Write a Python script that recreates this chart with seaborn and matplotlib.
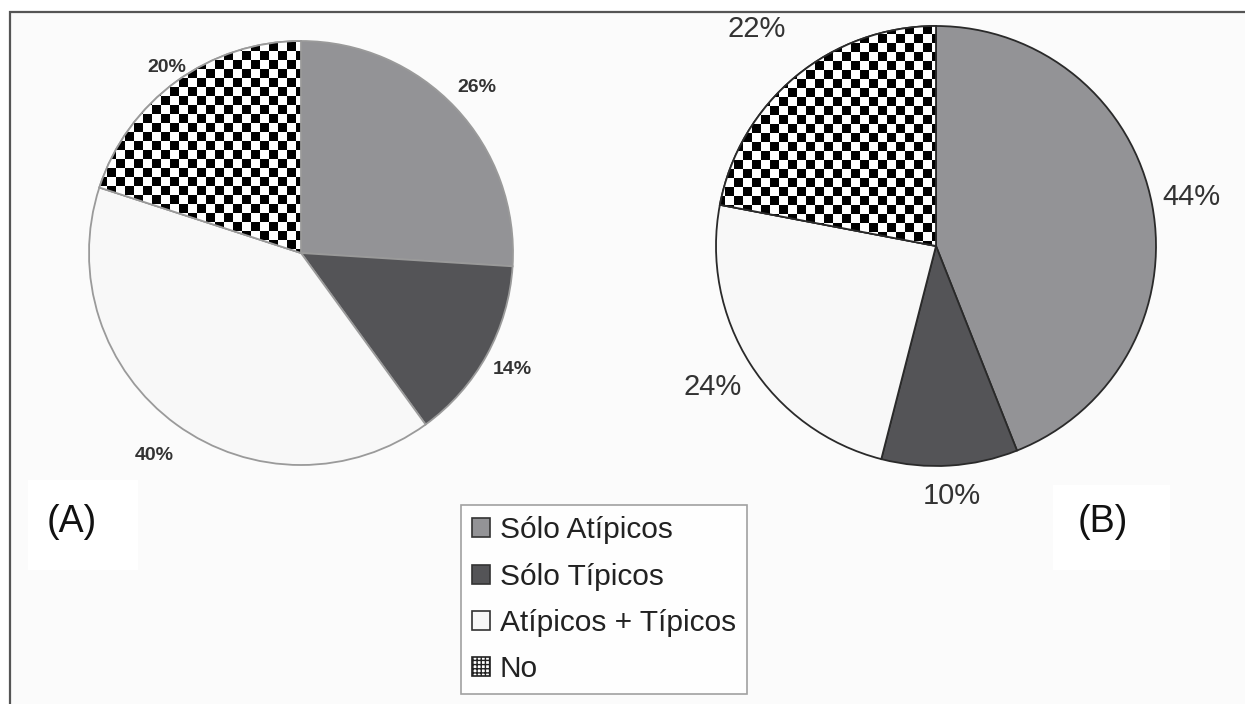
import numpy as np
import matplotlib
matplotlib.use("Agg")
import matplotlib.pyplot as plt
import matplotlib.patches as mpatches
import seaborn as sns

# datos de los dos graficos
categorias = ["Sólo Atípicos", "Sólo Típicos", "Atípicos + Típicos", "No"]
valores_a = [26, 14, 40, 20]
valores_b = [44, 10, 24, 22]
paneles = ["(A)", "(B)"]

colores = ["#939396", "#545457", "#f8f8f8", "white"]

sns.set_theme(style="white")
plt.rcParams['font.family'] = ['Liberation Sans', 'DejaVu Sans']

W, H = 1245, 704
fig = plt.figure(figsize=(W / 100, H / 100), dpi=100, facecolor="white")
ax = fig.add_axes([0, 0, 1, 1])
ax.set_axis_off()

# marco de fondo (solo arriba e izquierda visibles)
ax.add_patch(mpatches.Rectangle((10, -20), W + 40, H - 12 + 20, facecolor="#fbfbfb",
                                edgecolor="#555555", lw=1.6, zorder=0))
# parches blancos detras de (A) y (B)
ax.add_patch(mpatches.Rectangle((28, H - 570), 110, 90, facecolor="white", lw=0, zorder=0.5))
ax.add_patch(mpatches.Rectangle((1053, H - 570), 117, 85, facecolor="white", lw=0, zorder=0.5))


def tablero(ax, wedge, centro, r, celda):
    n = int(2 * r / celda) + 2
    grid = np.indices((n, n)).sum(axis=0) % 2
    x0, y0 = centro[0] - r, centro[1] - r
    im = ax.imshow(grid, cmap="gray", interpolation="nearest",
                   extent=(x0, x0 + n * celda, y0, y0 + n * celda), zorder=2)
    im.set_clip_path(wedge)


def dibujar(ax, valores, centro, r, borde, fs, peso, dists):
    wedges, textos, auto = ax.pie(
        valores, colors=colores, startangle=90, counterclock=False,
        center=centro, radius=r, autopct="%.0f%%", pctdistance=1.15,
        wedgeprops=dict(edgecolor=borde, linewidth=1.3),
        textprops=dict(fontsize=fs, color="#333333", fontweight=peso),
        frame=True)
    for w in wedges:
        w.set_zorder(1)
    tablero(ax, wedges[3], centro, r, 9)
    # contorno encima del tablero
    ax.add_patch(mpatches.Wedge(centro, r, wedges[3].theta1, wedges[3].theta2,
                                facecolor="none", edgecolor=borde, lw=1.3, zorder=3))
    for w, t, d in zip(wedges, auto, dists):
        ang = np.deg2rad((w.theta1 + w.theta2) / 2)
        t.set_position((centro[0] + d * r * np.cos(ang), centro[1] + d * r * np.sin(ang)))
    return wedges


wa = dibujar(ax, valores_a, (301, H - 253), 212, "#9a9a9a", 14, "bold",
             [1.14, 1.14, 1.18, 1.08])
wb = dibujar(ax, valores_b, (936, H - 246), 220, "#2a2a2a", 21, "normal",
             [1.18, 1.14, 1.2, 1.28])

ax.set_xlim(0, W)
ax.set_ylim(0, H)
ax.set_aspect("equal")

ax.text(72, H - 522, paneles[0], fontsize=27, ha="center", va="center", color="#111111")
ax.text(1103, H - 522, paneles[1], fontsize=27, ha="center", va="center", color="#111111")

manejadores = [
    mpatches.Patch(facecolor=colores[0], edgecolor="#333333", lw=1.2),
    mpatches.Patch(facecolor=colores[1], edgecolor="#333333", lw=1.2),
    mpatches.Patch(facecolor=colores[2], edgecolor="#333333", lw=1.2),
    mpatches.Patch(facecolor="white", edgecolor="#222222", lw=1.2, hatch="++++"),
]
leg = fig.legend(manejadores, categorias, loc="upper left",
                 bbox_to_anchor=(461 / W, 1 - 505 / H), fontsize=21.5,
                 frameon=True, fancybox=False, edgecolor="#8a8a8a",
                 handlelength=0.6, handleheight=0.6, handletextpad=0.32,
                 labelspacing=0.61, borderpad=0.38, borderaxespad=0)
leg.get_frame().set_linewidth(1.2)
leg.get_frame().set_facecolor("white")
for t in leg.get_texts():
    t.set_color("#222222")

fig.savefig("out.png", dpi=100, facecolor="white")
